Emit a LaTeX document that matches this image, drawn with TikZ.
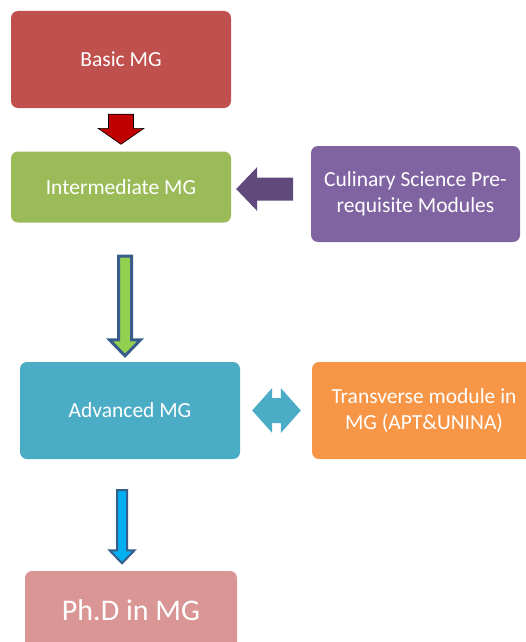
\documentclass[tikz,border=0pt]{standalone}
\usepackage{fontspec}
\setmainfont{Carlito}
\usetikzlibrary{calc}
\definecolor{basicred}{HTML}{C0504D}
\definecolor{intergreen}{HTML}{9BBB59}
\definecolor{culpurple}{HTML}{8064A2}
\definecolor{advblue}{HTML}{4BACC6}
\definecolor{transorange}{HTML}{F79646}
\definecolor{phdpink}{HTML}{D99694}
\definecolor{arrowred}{HTML}{C00000}
\definecolor{arrowpurple}{HTML}{604A7B}
\definecolor{arrowgreen}{HTML}{92D050}
\definecolor{arrowcyan}{HTML}{00B0F0}
\definecolor{arrowline}{HTML}{385D8A}
\tikzset{
  mgbox/.style={rounded corners=7pt, text=white, align=center, inner sep=0pt,
    font=\fontsize{21.5}{26}\selectfont},
}
% block arrow: [style]{from}{to}{shaft half width}{head half width}{head length}
\newcommand{\blockarrow}[6][]{%
  \coordinate (ba-s) at (#2);
  \coordinate (ba-e) at (#3);
  \coordinate (ba-h) at ($(ba-e)!#6!(ba-s)$);
  \draw[#1] ($(ba-s)!#4!90:(ba-e)$) -- ($(ba-h)!#4!-90:(ba-s)$) -- ($(ba-h)!#5!-90:(ba-s)$)
    -- (ba-e) -- ($(ba-h)!#5!90:(ba-s)$) -- ($(ba-h)!#4!90:(ba-s)$) -- ($(ba-s)!#4!-90:(ba-e)$) -- cycle;
}
% two headed: [style]{left}{right}{shaft half}{head half}{head length}
\newcommand{\twoheadarrow}[6][]{%
  \coordinate (da-s) at (#2);
  \coordinate (da-e) at (#3);
  \coordinate (da-h1) at ($(da-s)!#6!(da-e)$);
  \coordinate (da-h2) at ($(da-e)!#6!(da-s)$);
  \draw[#1] (da-s) -- ($(da-h1)!#5!90:(da-e)$) -- ($(da-h1)!#4!90:(da-e)$) -- ($(da-h2)!#4!-90:(da-s)$)
    -- ($(da-h2)!#5!-90:(da-s)$) -- (da-e) -- ($(da-h2)!#5!90:(da-s)$) -- ($(da-h2)!#4!90:(da-s)$)
    -- ($(da-h1)!#4!-90:(da-e)$) -- ($(da-h1)!#5!-90:(da-e)$) -- cycle;
}

\begin{document}
\begin{tikzpicture}[x=1pt,y=-1pt,line join=miter]
  \useasboundingbox (0,0) rectangle (526,642);

  \node[mgbox, fill=basicred, minimum width=220pt, minimum height=97pt] (basic) at (121,59.5) {Basic MG};
  \node[mgbox, fill=intergreen, minimum width=220pt, minimum height=71pt] (inter) at (121,187) {Intermediate MG};
  \node[mgbox, fill=culpurple, minimum width=209pt, minimum height=96pt] (culinary) at (415.5,194) {Culinary Science Pre-\\requisite Modules};
  \node[mgbox, fill=advblue, minimum width=220pt, minimum height=97pt] (adv) at (130,410.5) {Advanced MG};
  \node[mgbox, fill=transorange, minimum width=224pt, minimum height=97pt] (trans) at (424,410.5) {Transverse module in\\MG (APT\&UNINA)};
  \node[mgbox, fill=phdpink, minimum width=212pt, minimum height=78pt, font=\fontsize{30}{36}\selectfont] (phd) at (131,610) {Ph.D in MG};

  % arrows
  \blockarrow[fill=arrowred, draw=black, line width=0.6pt]{$(basic.south)+(0,6)$}{$(inter.north)+(0,-7)$}{12.5pt}{23pt}{16pt}
  \blockarrow[fill=arrowpurple, draw=none]{$(inter.east)+(62,2)$}{$(inter.east)+(5,2)$}{11.5pt}{22pt}{21pt}
  \blockarrow[fill=arrowgreen, draw=arrowline, line width=3pt]{$(inter.south)+(4,33.5)$}{$(adv.north)+(-5,-6)$}{6.5pt}{15.5pt}{16pt}
  \twoheadarrow[fill=advblue, draw=none]{$(adv.east)+(12,0)$}{$(trans.west)+(-11,0)$}{12.5pt}{22.5pt}{20pt}
  \blockarrow[fill=arrowcyan, draw=arrowline, line width=2pt]{$(adv.south)+(-8,31)$}{$(phd.north)+(-9,-7.5)$}{5pt}{12.5pt}{13pt}
\end{tikzpicture}
\end{document}
